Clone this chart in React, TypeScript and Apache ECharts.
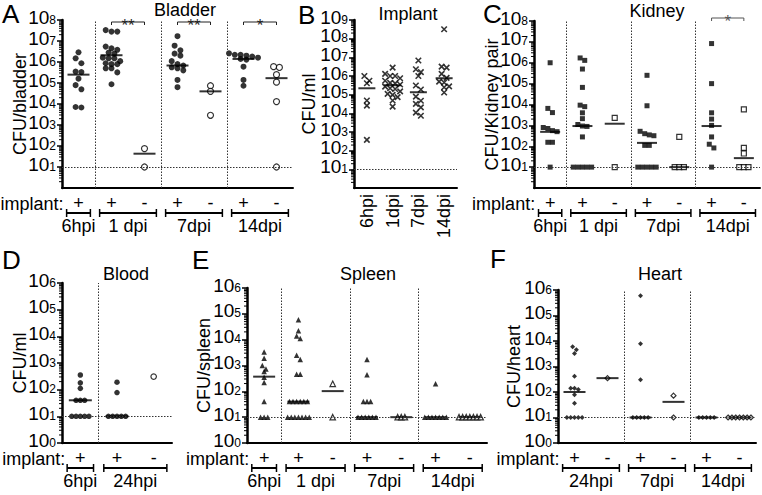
import React, { useEffect, useRef } from "react";
import * as echarts from "echarts";

const FONT = "'Liberation Sans', Arial, Helvetica, sans-serif";

// ---------- A: Bladder ----------
const bladderCats = ["+", "+", "-", "+", "-", "+", "-"];
const bladderGroups: [string, number, number][] = [["6hpi", 0, 0], ["1 dpi", 1, 2], ["7dpi", 3, 4], ["14dpi", 5, 6]];
const bladderValues: number[][] = [
  [2.9e6, 1.5e6, 8.7e5, 3.5e5, 3.3e5, 1.6e5, 7.9e4, 5.0e4, 6.8e3, 7.2e3],
  [3.3e7, 2.8e7, 2.8e7, 5.4e6, 4.5e6, 3.8e6, 2.8e6, 2.5e6, 1.6e6, 1.5e6, 1.5e6, 1.1e6, 8.7e5, 7.9e5, 7.9e5, 5.0e5, 5.0e5, 3.2e5, 8.7e4],
  [75, 10],
  [1.7e7, 6.0e6, 3.6e6, 2.5e6, 2.0e6, 1.1e6, 7.9e5, 6.8e5, 5.6e5, 5.0e5, 4.0e5, 1.4e5, 6.3e4],
  [7.4e4, 4.0e4, 2.9e3],
  [2.6e6, 2.2e6, 2.2e6, 2.0e6, 1.8e6, 1.6e6, 1.4e6, 1.3e6, 6.0e5, 1.4e5, 7.4e4],
  [6.0e5, 5.5e5, 2.5e5, 1.1e5, 1.3e4, 10],
];
const bladderMedians: (number | null)[] = [2.5e5, 2.1e6, 43, 6.8e5, 4.0e4, 1.4e6, 1.7e5];
const bladderSig: [number, number, string][] = [[1, 2, "**"], [3, 4, "**"], [5, 6, "*"]];

// ---------- B: Implant ----------
const implantCats = ["6hpi", "1dpi", "7dpi", "14dpi"];
const implantValues: number[][] = [
  [1.0e6, 5.6e5, 4.1e5, 4.9e4, 2.6e4, 380],
  [2.8e6, 1.3e6, 1.0e6, 1.0e6, 7.6e5, 5.6e5, 4.3e5, 4.0e5, 3.5e5, 2.7e5, 2.2e5, 2.0e5, 1.5e5, 1.1e5, 9.8e4, 7.4e4, 4.9e4, 2.3e4],
  [6.8e6, 2.3e6, 1.6e6, 1.0e6, 3.1e5, 1.9e5, 7.9e4, 4.7e4, 3.2e4, 2.1e4, 1.1e4, 7.4e3],
  [3.2e8, 3.2e6, 2.8e6, 1.3e6, 7.9e5, 5.0e5, 4.5e5, 2.8e5, 2.5e5, 1.3e5],
];
const implantMedians: (number | null)[] = [2.2e5, 3.2e5, 1.35e5, 7.6e5];

// ---------- C: Kidney ----------
const kidneyCats = ["+", "+", "-", "+", "-", "+", "-"];
const kidneyGroups: [string, number, number][] = [["6hpi", 0, 0], ["1 dpi", 1, 2], ["7dpi", 3, 4], ["14dpi", 5, 6]];
const kidneyValues: number[][] = [
  [1.0e6, 6.5e3, 4.1e3, 790, 710, 560, 500, 155, 155, 10],
  [1.7e6, 1.3e6, 5.0e5, 6.6e4, 9.3e3, 7.9e3, 4.0e3, 2.1e3, 1.1e3, 930, 890, 280, 10, 10, 10, 10, 10],
  [2.3e3, 10],
  [2.5e5, 8.7e3, 520, 400, 350, 320, 110, 110, 10, 10, 10, 10, 10],
  [280, 10, 10, 10],
  [8.3e6, 1.0e5, 4.0e3, 2.0e3, 1.0e3, 280, 125, 83, 10],
  [5.9e3, 83, 45, 10, 10, 10],
];
const kidneyMedians: (number | null)[] = [490, 930, 1.2e3, 145, 10, 930, 27];
const kidneySig: [number, number, string][] = [[5, 6, "*"]];

// ---------- D: Blood ----------
const bloodCats = ["+", "+", "-"];
const bloodGroups: [string, number, number][] = [["6hpi", 0, 0], ["24hpi", 1, 2]];
const bloodValues: number[][] = [
  [355, 180, 112, 40, 40, 40, 10, 10, 10, 10, 10],
  [190, 78, 10, 10, 10, 10, 10],
  [310],
];
const bloodMedians: (number | null)[] = [40, 10, null];

// ---------- E: Spleen ----------
const spleenCats = ["+", "+", "-", "+", "-", "+", "-"];
const spleenGroups: [string, number, number][] = [["6hpi", 0, 0], ["1 dpi", 1, 2], ["7dpi", 3, 4], ["14dpi", 5, 6]];
const spleenValues: number[][] = [
  [3.3e3, 1.9e3, 1.0e3, 740, 580, 350, 220, 40, 10, 10, 10],
  [5.9e4, 2.2e4, 1.4e4, 1.1e4, 2.5e3, 1.7e3, 460, 460, 40, 40, 40, 40, 40, 40, 10, 10, 10, 10, 10, 10, 10],
  [195, 10],
  [1.7e3, 440, 40, 40, 40, 10, 10, 10, 10, 10, 10],
  [10, 10, 10],
  [195, 10, 10, 10, 10, 10, 10, 10],
  [10, 10, 10, 10, 10, 10, 10],
];
const spleenMedians: (number | null)[] = [370, 40, 102, 10, 10, 10, 10];

// ---------- F: Heart ----------
const heartCats = ["+", "-", "+", "-", "+", "-"];
const heartGroups: [string, number, number][] = [["24hpi", 0, 1], ["7dpi", 2, 3], ["14dpi", 4, 5]];
const heartValues: number[][] = [
  [6.0e3, 4.5e3, 3.2e3, 410, 140, 140, 125, 78, 36, 10, 10, 10, 10, 10],
  [350],
  [6.0e5, 7.8e3, 300, 10, 10, 10, 10, 10],
  [72, 10],
  [10, 10, 10, 10, 10],
  [10, 10, 10, 10, 10, 10, 10],
];
const heartMedians: (number | null)[] = [100, 350, 10, 41, 10, 10];

const LOD = 10; // detection limit line

type Panel = {
  letter: string; letterX: number; letterY: number;
  title: string; titleX: number; titleY: number;
  yName: string; nameGap: number;
  cats: string[]; groups: [string, number, number][] | null;
  values: number[][]; medians: (number | null)[];
  sig: [number, number, string][]; sigOffset: number; sigColor: string;
  maxExp: number;
  grid: { left: number; top: number; width: number; height: number };
  symbol: string; size: number; spacing: number; bin: number; medW: number;
  rotate: boolean;
};

const CROSS = "path://M0,0L10,10M10,0L0,10";

const panels: Panel[] = [
  {
    letter: "A", letterX: 2, letterY: 14, title: "Bladder", titleX: 185, titleY: 10,
    yName: "CFU/bladder", nameGap: 33, cats: bladderCats, groups: bladderGroups,
    values: bladderValues, medians: bladderMedians, sig: bladderSig, sigOffset: 2, sigColor: "#222",
    maxExp: 8, grid: { left: 62, top: 20, width: 231, height: 168 },
    symbol: "circle", size: 6, spacing: 5.8, bin: 5, medW: 22, rotate: false,
  },
  {
    letter: "B", letterX: 298, letterY: 15, title: "Implant", titleX: 408, titleY: 14,
    yName: "CFU/ml", nameGap: 36, cats: implantCats, groups: null,
    values: implantValues, medians: implantMedians, sig: [], sigOffset: 0, sigColor: "#222",
    maxExp: 9, grid: { left: 354, top: 20, width: 103, height: 168 },
    symbol: CROSS, size: 5.5, spacing: 5, bin: 5, medW: 17, rotate: true,
  },
  {
    letter: "C", letterX: 483, letterY: 14, title: "Kidney", titleX: 657, titleY: 11,
    yName: "CFU/Kidney pair", nameGap: 33, cats: kidneyCats, groups: kidneyGroups,
    values: kidneyValues, medians: kidneyMedians, sig: kidneySig, sigOffset: -3, sigColor: "#555",
    maxExp: 8, grid: { left: 534, top: 21, width: 226, height: 167 },
    symbol: "rect", size: 5, spacing: 4.6, bin: 5, medW: 20, rotate: false,
  },
  {
    letter: "D", letterX: 2, letterY: 260, title: "Blood", titleX: 126, titleY: 274,
    yName: "CFU/ml", nameGap: 33, cats: bloodCats, groups: bloodGroups,
    values: bloodValues, medians: bloodMedians, sig: [], sigOffset: 0, sigColor: "#222",
    maxExp: 6, grid: { left: 62, top: 283, width: 110, height: 160 },
    symbol: "circle", size: 5.5, spacing: 4.3, bin: 5, medW: 23, rotate: false,
  },
  {
    letter: "E", letterX: 192, letterY: 260, title: "Spleen", titleX: 368, titleY: 274,
    yName: "CFU/spleen", nameGap: 34, cats: spleenCats, groups: spleenGroups,
    values: spleenValues, medians: spleenMedians, sig: [], sigOffset: 0, sigColor: "#222",
    maxExp: 6, grid: { left: 247, top: 288, width: 240, height: 155 },
    symbol: "triangle", size: 5.5, spacing: 3.6, bin: 5, medW: 22, rotate: false,
  },
  {
    letter: "F", letterX: 490, letterY: 259, title: "Heart", titleX: 660, titleY: 274,
    yName: "CFU/heart", nameGap: 35, cats: heartCats, groups: heartGroups,
    values: heartValues, medians: heartMedians, sig: [], sigOffset: 0, sigColor: "#222",
    maxExp: 6, grid: { left: 558, top: 290, width: 198, height: 153 },
    symbol: "diamond", size: 5, spacing: 3.8, bin: 5, medW: 22, rotate: false,
  },
];

// Beeswarm-style horizontal spreading (pixel offsets) for points close in y
function swarmOffsets(vals: number[], pxPerDec: number, bin: number, spacing: number): number[] {
  const order = vals.map((_, i) => i).sort((a, b) => vals[b] - vals[a]);
  const out: number[] = new Array(vals.length).fill(0);
  let row: number[] = [];
  let rowY = 0;
  const flush = () => {
    const k = row.length;
    row.forEach((idx, j) => { out[idx] = (j - (k - 1) / 2) * spacing; });
    row = [];
  };
  order.forEach((idx) => {
    const y = Math.log10(vals[idx]) * pxPerDec;
    if (row.length && rowY - y > bin) flush();
    if (!row.length) rowY = y;
    row.push(idx);
  });
  flush();
  return out;
}

export default function App() {
  const ref = useRef<HTMLDivElement>(null);
  useEffect(() => {
    const chart = echarts.init(ref.current!, null, { renderer: "svg" });
    const grids: any[] = [];
    const xAxes: any[] = [];
    const yAxes: any[] = [];
    const series: any[] = [];

    panels.forEach((p, k) => {
      const n = p.cats.length;
      grids.push({ ...p.grid, containLabel: false });
      xAxes.push({
        gridIndex: k, type: "category", data: p.cats.map((_, i) => String(i)), boundaryGap: true,
        axisLine: { onZero: false, lineStyle: { color: "#000", width: 2 } },
        axisTick: { alignWithLabel: true, length: 5, lineStyle: { color: "#000", width: 1.5 } },
        axisLabel: {
          interval: 0, formatter: (_v: string, i: number) => p.cats[i],
          fontSize: 18, fontFamily: FONT, color: "#000", margin: p.rotate ? 6 : 7, rotate: p.rotate ? 90 : 0,
          lineHeight: 16,
        },
        splitLine: { show: false },
      });
      const vx = xAxes.length;
      xAxes.push({ gridIndex: k, type: "value", min: -0.5, max: n - 0.5, show: false, axisLine: { onZero: false }, splitLine: { show: false } });
      yAxes.push({
        gridIndex: k, type: "log", logBase: 10, min: 1, max: Math.pow(10, p.maxExp) * 1.000001, splitNumber: 10,
        axisLine: { show: true, onZero: false, lineStyle: { color: "#000", width: 2.5 } },
        axisTick: { show: true, length: 5, lineStyle: { color: "#000", width: 1.5 } },
        splitLine: { show: false },
        axisLabel: {
          margin: 6,
          formatter: (v: number) => `{b|10}{s|${Math.round(Math.log10(v))}}`,
          rich: {
            b: { fontSize: 19, fontFamily: FONT, color: "#000", lineHeight: 13, padding: [3, 0, 0, 0], verticalAlign: "bottom" },
            s: { fontSize: 12, fontFamily: FONT, color: "#000", lineHeight: 9, verticalAlign: "top" },
          },
        },
        name: p.yName, nameLocation: "middle", nameGap: p.nameGap, nameRotate: 90, nameMoveOverlap: false,
        nameTextStyle: { fontSize: 18, fontFamily: FONT, color: "#000" },
      });

      const pxPerDec = p.grid.height / p.maxExp;
      const pxPerCat = p.grid.width / n;
      const filled: any[] = [];
      const open: any[] = [];
      p.values.forEach((col, i) => {
        const offs = swarmOffsets(col, pxPerDec, p.bin, p.spacing);
        const isOpen = p.cats[i] === "-";
        col.forEach((v, j) => {
          (isOpen ? open : filled).push([i + offs[j] / pxPerCat, v]);
        });
      });
      const isCross = p.symbol === CROSS;
      series.push({
        type: "scatter", xAxisIndex: vx, yAxisIndex: k, data: filled, symbol: p.symbol, symbolSize: p.size, z: 3,
        itemStyle: isCross ? { color: "none", borderColor: "#000", borderWidth: 1.6 } : { color: "#000" },
        silent: true,
      });
      if (open.length) {
        series.push({
          type: "scatter", xAxisIndex: vx, yAxisIndex: k, data: open, symbol: p.symbol, symbolSize: p.size, z: 3,
          itemStyle: { color: "#fff", borderColor: "#000", borderWidth: 1.2 }, silent: true,
        });
      }
      // separators from groups
      const seps: any[] = [];
      if (p.groups) p.groups.slice(0, -1).forEach((g) => seps.push({ xAxis: g[2] + 0.5 }));
      series.push({
        type: "scatter", xAxisIndex: vx, yAxisIndex: k, z: 4, silent: true,
        data: p.medians.map((m, i) => (m == null ? null : [i, m])).filter((d) => d),
        symbol: "rect", symbolSize: [p.medW, 2], itemStyle: { color: "#000" },
        markLine: {
          silent: true, symbol: ["none", "none"], label: { show: false },
          lineStyle: { type: [1.5, 1.5], color: "#333", width: 1 },
          data: [{ yAxis: LOD }, ...seps],
        },
      });
      // log minor ticks on the y axis
      const minor: number[][] = [];
      for (let e = 0; e < p.maxExp; e++) for (let m = 2; m <= 9; m++) minor.push([-0.5, m * Math.pow(10, e)]);
      series.push({
        type: "custom", xAxisIndex: vx, yAxisIndex: k, silent: true, clip: false, z: 5, data: minor,
        renderItem: (_params: any, api: any) => {
          const pt = api.coord([api.value(0), api.value(1)]);
          return { type: "line", shape: { x1: pt[0] - 3, y1: pt[1], x2: pt[0], y2: pt[1] }, style: { stroke: "#000", lineWidth: 1 } };
        },
      });
    });

    chart.setOption({
      animation: false,
      backgroundColor: "#fff",
      grid: grids, xAxis: xAxes, yAxis: yAxes, series,
    });

    const g: any[] = [];
    const txt = (text: string, x: number, y: number, size: number, align: string, valign: string, fill = "#000", lh?: number) => ({
      type: "text", x, y, silent: true,
      style: { text, fontSize: size, fontFamily: FONT, fill, align, verticalAlign: valign, lineHeight: lh },
    });
    const line = (x1: number, y1: number, x2: number, y2: number, w: number, stroke = "#000") => ({
      type: "line", silent: true, shape: { x1, y1, x2, y2 }, style: { stroke, lineWidth: w },
    });
    panels.forEach((p, k) => {
      const vx = 2 * k + 1;
      const X = (i: number) => chart.convertToPixel({ xAxisIndex: vx } as any, i) as unknown as number;
      const yB = chart.convertToPixel({ yAxisIndex: k } as any, 1) as unknown as number;
      const yT = chart.convertToPixel({ yAxisIndex: k } as any, Math.pow(10, p.maxExp)) as unknown as number;
      const step = X(1) - X(0);
      g.push(txt(p.letter, p.letterX, p.letterY, 26, "left", "middle", "#000", 20));
      g.push(txt(p.title, p.titleX, p.titleY, 18, "center", "middle", "#000", 14));
      if (p.groups) {
        g.push(txt("implant:", X(0) - 15, yB + 16, 18, "right", "middle", "#000", 14));
        p.groups.forEach(([label, a, b]) => {
          const x1 = X(a) - 0.36 * step;
          const x2 = X(b) + 0.36 * step;
          const yy = yB + 25;
          g.push(line(x1, yy, x2, yy, 2));
          g.push(line(x1, yy - 4, x1, yy + 4, 1.5));
          g.push(line(x2, yy - 4, x2, yy + 4, 1.5));
          g.push(txt(label, (x1 + x2) / 2, yB + 38, 18, "center", "middle", "#000", 14));
        });
      }
      p.sig.forEach(([a, b, s]) => {
        const yy = yT + p.sigOffset;
        const x1 = X(a);
        const x2 = X(b);
        g.push(line(x1, yy, x2, yy, 1, p.sigColor));
        g.push(line(x1, yy, x1, yy + 3, 1, p.sigColor));
        g.push(line(x2, yy, x2, yy + 3, 1, p.sigColor));
        g.push(txt(s, (x1 + x2) / 2, yy + 3, 17, "center", "middle", p.sigColor, 6));
      });
    });
    chart.setOption({ graphic: g });

    return () => chart.dispose();
  }, []);

  return <div ref={ref} style={{ position: "absolute", left: 0, top: 0, width: 762, height: 495 }} />;
}
